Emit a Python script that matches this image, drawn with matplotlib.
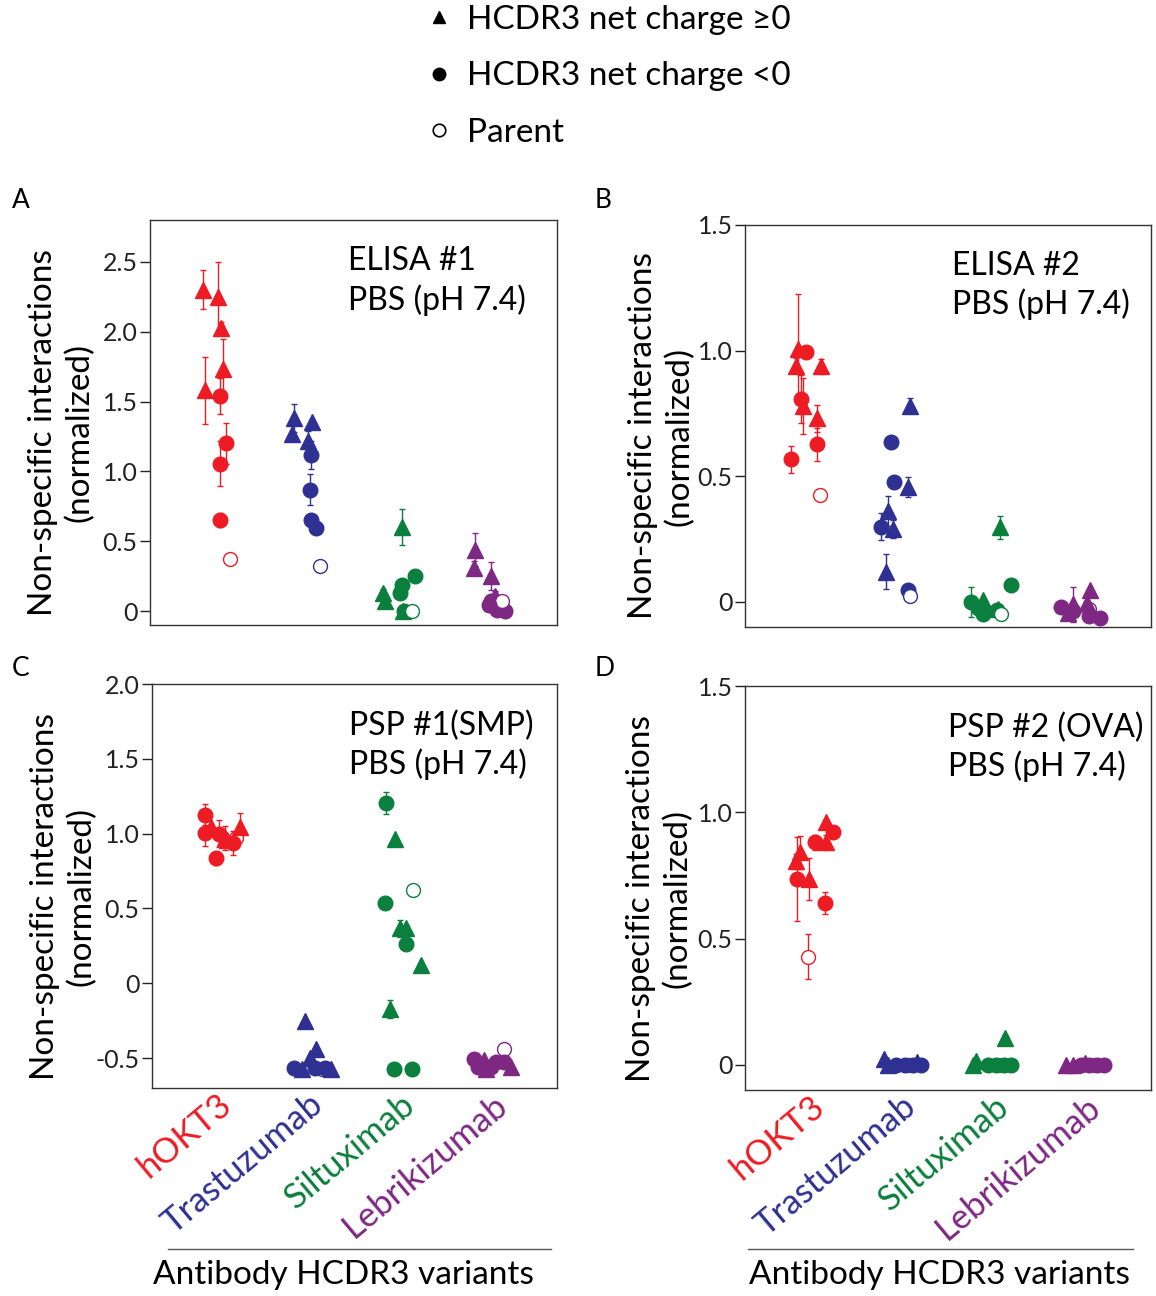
import matplotlib

matplotlib.use("Agg")
import matplotlib.pyplot as plt
from matplotlib.lines import Line2D
import numpy as np

plt.rcParams["font.family"] = ["Lato", "DejaVu Sans"]

antibodies = ["hOKT3", "Trastuzumab", "Siltuximab", "Lebrikizumab"]
ab_colors = ["#ED1C24", "#2E3192", "#0B7F3D", "#7E2884"]
cat_pos = [0.7, 1.7, 2.7, 3.7]

# kind: t = HCDR3 net charge >= 0, c = net charge < 0, p = parent
# --- ELISA #1 ---
elisa1_ab = [0] * 10 + [1] * 9 + [2] * 9 + [3] * 9
elisa1_kind = list("tttttccccp") + list("ttttccccp") + list("tttcccctp") + list("ttttcccpc")
elisa1_jitter = [-0.13, 0.03, 0.07, 0.09, -0.11, 0.06, 0.12, 0.06, 0.06, 0.17,
                 -0.14, 0.05, -0.16, 0.01, 0.04, 0.03, 0.04, 0.09, 0.14,
                 0.02, -0.18, -0.16, 0.02, 0.00, 0.16, 0.05, 0.04, 0.13,
                 -0.19, -0.20, -0.01, 0.03, -0.01, 0.05, 0.14, 0.10, -0.04]
elisa1_val = [2.30, 2.25, 2.03, 1.73, 1.58, 1.54, 1.20, 1.055, 0.65, 0.375,
              1.385, 1.357, 1.266, 1.218, 1.12, 0.87, 0.654, 0.594, 0.323,
              0.60, 0.13, 0.075, 0.19, 0.13, 0.25, 0.00, 0.00, 0.00,
              0.44, 0.31, 0.25, 0.11, 0.07, 0.01, 0.00, 0.07, 0.04]
elisa1_err = [0.14, 0.25, 0.04, 0.22, 0.24, 0.13, 0.15, 0.16, 0.05, 0,
              0.10, 0, 0, 0.07, 0.10, 0.11, 0.02, 0, 0,
              0.13, 0.03, 0, 0, 0, 0, 0, 0, 0,
              0.12, 0.05, 0.10, 0.03, 0, 0, 0, 0, 0]

# --- ELISA #2 ---
elisa2_ab = [0] * 10 + [1] * 10 + [2] * 9 + [3] * 9
elisa2_kind = list("tcttcttccp") + list("tccttcttcp") + list("tcctcctcp") + list("pttttcccc")
elisa2_jitter = [-0.13, -0.04, -0.15, 0.12, -0.09, -0.07, 0.085, 0.085, -0.20, 0.11,
                 0.09, -0.115, -0.08, 0.07, -0.15, -0.23, -0.10, -0.17, 0.07, 0.09,
                 0.06, 0.18, -0.25, -0.12, -0.12, -0.18, 0.04, 0.03, 0.07,
                 0.03, -0.15, -0.20, 0.04, 0.01, -0.28, -0.14, 0.03, 0.15]
elisa2_val = [1.007, 0.996, 0.94, 0.938, 0.808, 0.78, 0.73, 0.627, 0.567, 0.425,
              0.78, 0.637, 0.478, 0.458, 0.362, 0.30, 0.29, 0.12, 0.046, 0.022,
              0.297, 0.069, 0.0, 0.006, -0.05, -0.024, -0.028, -0.033, -0.048,
              -0.03, -0.01, -0.044, 0.046, -0.004, -0.02, -0.037, -0.057, -0.063]
elisa2_err = [0.22, 0, 0.03, 0.03, 0.095, 0.11, 0.055, 0.065, 0.055, 0,
              0.03, 0, 0, 0.04, 0.06, 0.055, 0.035, 0.07, 0.01, 0,
              0.045, 0, 0.06, 0, 0, 0, 0.02, 0, 0,
              0, 0.07, 0, 0, 0, 0, 0, 0, 0]

# --- PSP #1 (SMP) ---
psp1_ab = [0] * 10 + [1] * 9 + [2] * 11 + [3] * 9
psp1_kind = list("cctctcptct") + list("ptttctcct") + list("ctpcttcttcc") + list("pccttccct")
psp1_jitter = [-0.12, -0.12, -0.06, 0.03, 0.09, -0.01, 0.21, 0.12, 0.18, 0.26,
               0.15, -0.04, 0.08, 0.02, -0.16, -0.07, 0.07, 0.18, 0.24,
               -0.16, -0.06, 0.14, -0.17, -0.01, 0.06, 0.06, 0.22, -0.11, -0.07, 0.13,
               0.12, -0.20, -0.16, -0.09, -0.07, -0.02, 0.04, 0.12, 0.20]
psp1_val = [1.125, 1.002, 1.047, 0.998, 0.969, 0.835, 0.97, 0.957, 0.935, 1.047,
            -0.57, -0.25, -0.44, -0.50, -0.567, -0.57, -0.567, -0.567, -0.57,
            1.203, 0.962, 0.623, 0.538, 0.366, 0.366, 0.261, 0.12, -0.17, -0.571, -0.571,
            -0.437, -0.505, -0.56, -0.515, -0.57, -0.56, -0.527, -0.527, -0.56]
psp1_err = [0.07, 0.085, 0, 0.09, 0.08, 0.045, 0, 0, 0.08, 0.09,
            0, 0, 0, 0, 0, 0, 0, 0, 0,
            0.075, 0, 0, 0, 0.06, 0, 0, 0, 0.06, 0, 0,
            0, 0, 0, 0, 0, 0, 0, 0, 0]

# --- PSP #2 (OVA) ---
psp2_ab = [0] * 10 + [1] * 8 + [2] * 8 + [3] * 8
psp2_kind = list("tccttttccp") + list("pttcctcc") + list("ptttcccc") + list("pttctccc")
psp2_jitter = [0.18, 0.25, 0.06, 0.18, -0.10, -0.15, -0.01, -0.14, 0.17, -0.015,
               0.08, -0.19, -0.15, -0.06, 0.03, 0.16, 0.12, 0.21,
               0.05, 0.12, -0.20, -0.23, -0.07, 0.02, 0.11, 0.18,
               0.08, -0.22, -0.15, -0.06, -0.01, 0.03, 0.12, 0.19]
psp2_val = [0.96, 0.923, 0.881, 0.881, 0.841, 0.805, 0.736, 0.736, 0.642, 0.428,
            0.0, 0.021, 0.0, 0.0, 0.0, 0.012, 0.0, 0.0,
            0.0, 0.104, 0.016, 0.0, 0.0, 0.0, 0.0, 0.0,
            0.0, 0.0, 0.0, 0.0, 0.005, 0.0, 0.0, 0.0]
psp2_err = [0, 0, 0.03, 0.03, 0.066, 0.03, 0.082, 0.165, 0.044, 0.09,
            0, 0, 0, 0, 0, 0, 0, 0,
            0, 0.015, 0, 0, 0, 0, 0, 0,
            0, 0, 0, 0, 0, 0, 0, 0]

panel_titles = ["ELISA #1\nPBS (pH 7.4)", "ELISA #2\nPBS (pH 7.4)",
                "PSP #1(SMP)\nPBS (pH 7.4)", "PSP #2 (OVA)\nPBS (pH 7.4)"]
panel_letters = ["A", "B", "C", "D"]
y_ticks = [[0, 0.5, 1.0, 1.5, 2.0, 2.5], [0, 0.5, 1.0, 1.5],
           [-0.5, 0, 0.5, 1.0, 1.5, 2.0], [0, 0.5, 1.0, 1.5]]
y_limits = [(-0.1, 2.8), (-0.1, 1.5), (-0.7, 2.0), (-0.1, 1.5)]


def fmt_tick(v):
    return "0" if v == 0 else f"{v:.1f}"


def draw_panel(ax, ab, kind, jitter, val, err):
    x = np.array([cat_pos[a] for a in ab]) + np.array(jitter)
    for i in range(len(val)):
        col = ab_colors[ab[i]]
        if err[i] > 0:
            ax.errorbar(x[i], val[i], yerr=err[i], fmt="none", ecolor=col,
                        elinewidth=1.0, capsize=2.5, capthick=1.0, zorder=2)
    for i in range(len(val)):
        col = ab_colors[ab[i]]
        if kind[i] == "t":
            ax.plot(x[i], val[i], marker="^", ms=11, color=col, mec=col, ls="none", zorder=3)
        elif kind[i] == "c":
            ax.plot(x[i], val[i], marker="o", ms=10.5, color=col, mec=col, ls="none", zorder=3)
        else:
            ax.plot(x[i], val[i], marker="o", ms=10, mfc="white", mec=col, mew=1.0,
                    ls="none", zorder=3)


fig = plt.figure(figsize=(11.56, 12.96), dpi=100)
W, H = 1156, 1296
boxes = [(150, 220, 557, 625), (745, 225, 1151, 627), (152, 684, 557, 1088), (745, 686, 1151, 1090)]
letter_xy = [(12, 200), (595, 200), (12, 668), (595, 668)]
title_x = [0.487, 0.51, 0.487, 0.50]
ylabel_gap = [55, 50, 55, 52]
data = [(elisa1_ab, elisa1_kind, elisa1_jitter, elisa1_val, elisa1_err),
        (elisa2_ab, elisa2_kind, elisa2_jitter, elisa2_val, elisa2_err),
        (psp1_ab, psp1_kind, psp1_jitter, psp1_val, psp1_err),
        (psp2_ab, psp2_kind, psp2_jitter, psp2_val, psp2_err)]

for k, (l, t, r, b) in enumerate(boxes):
    ax = fig.add_axes([l / W, 1 - b / H, (r - l) / W, (b - t) / H])
    draw_panel(ax, *data[k])
    ax.set_xlim(0, 4.4)
    ax.set_ylim(*y_limits[k])
    ax.set_yticks(y_ticks[k])
    ax.set_yticklabels([fmt_tick(v) for v in y_ticks[k]], fontsize=18)
    ax.tick_params(axis="y", direction="out", length=7, width=1.0, pad=2, colors="#222222")
    for s in ax.spines.values():
        s.set_linewidth(1.0)
        s.set_color("#333333")
    ax.set_ylabel("Non-specific interactions\n(normalized)", fontsize=24, linespacing=1.25)
    ax.yaxis.set_label_coords(-ylabel_gap[k] / (r - l), 0.475)
    ax.text(title_x[k], 0.935, panel_titles[k], transform=ax.transAxes,
            ha="left", va="top", fontsize=23, linespacing=1.3)
    lx, ly = letter_xy[k]
    fig.text(lx / W, 1 - ly / H, panel_letters[k], fontsize=19, ha="left", va="center")
    if k >= 2:
        ax.set_xticks(cat_pos)
        ax.set_xticklabels(antibodies, rotation=40, ha="right", rotation_mode="anchor",
                           fontsize=25)
        for lab, col in zip(ax.get_xticklabels(), ab_colors):
            lab.set_color(col)
        ax.tick_params(axis="x", length=0, pad=0)
    else:
        ax.set_xticks([])

# x-axis caption lines and text
for x0, x1, xc in [(168, 551, 343), (748, 1133, 939)]:
    fig.add_artist(Line2D([x0 / W, x1 / W], [1 - 1249 / H, 1 - 1249 / H],
                          color="#555555", lw=1.0))
    fig.text(xc / W, 1 - 1275 / H, "Antibody HCDR3 variants",
             fontsize=24, ha="center", va="center")

handles = [Line2D([], [], marker="^", color="black", ls="none", ms=9),
           Line2D([], [], marker="o", color="black", ls="none", ms=9),
           Line2D([], [], marker="o", mfc="white", mec="black", ls="none", ms=9, mew=1.2)]
fig.legend(handles, ["HCDR3 net charge \u22650", "HCDR3 net charge <0", "Parent"],
           loc="upper left", bbox_to_anchor=(409 / W, 1.0 + 12 / H), frameon=False,
           fontsize=24, labelspacing=0.8, handlelength=0.8, handletextpad=0.44,
           borderpad=0.0)

fig.savefig("out.png", dpi=100)
